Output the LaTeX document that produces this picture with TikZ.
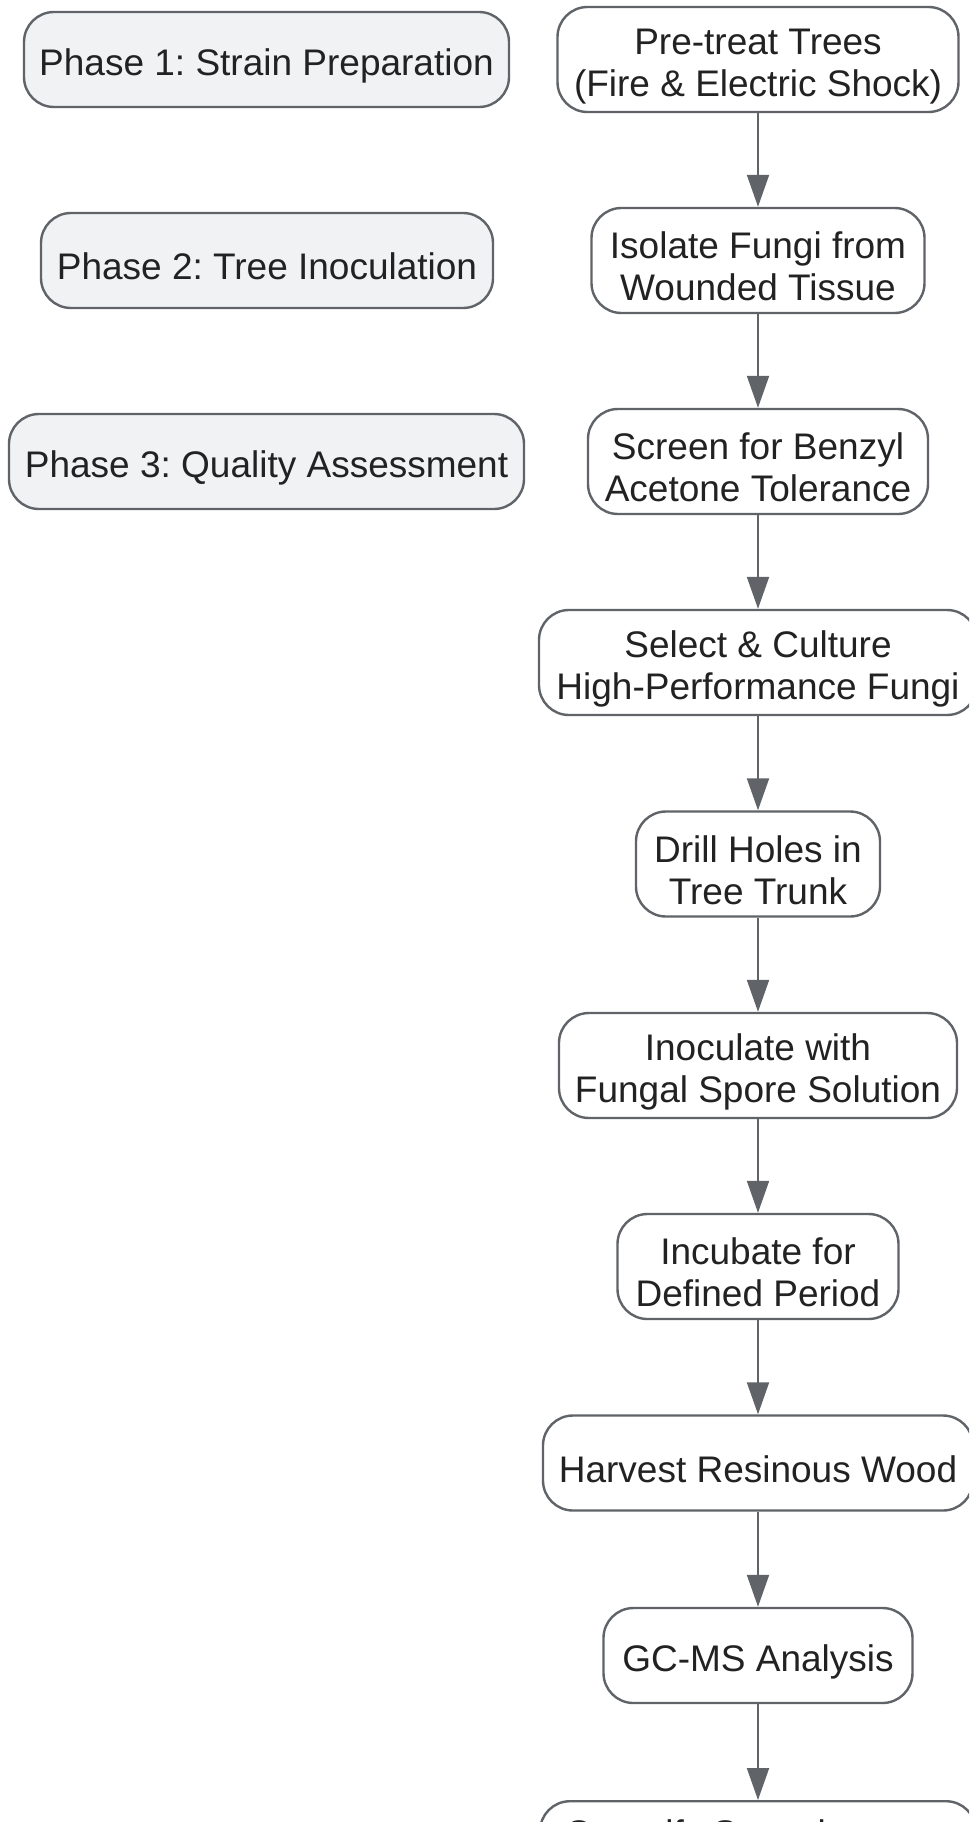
\documentclass[tikz,border=0pt]{standalone}
\usepackage{fontspec}
\setmainfont{Liberation Sans}
\usetikzlibrary{arrows.meta}
\definecolor{edgegray}{HTML}{606468}
\definecolor{phasefill}{HTML}{F1F2F4}
\definecolor{txt}{HTML}{222222}
\newcommand{\topstrut}{\rule{0pt}{39pt}}
\begin{document}
\begin{tikzpicture}[x=1pt,y=-1pt,
  base/.style={draw=edgegray, line width=2.4pt, rounded corners=30pt, align=center,
    text=txt, inner xsep=0pt, inner ysep=0pt,
    font=\fontsize{37}{42}\selectfont\frenchspacing},
  phasebox/.style={base, fill=phasefill, minimum height=95pt},
  stepone/.style={base, fill=white, minimum height=95pt},
  steptwo/.style={base, fill=white, minimum height=105pt},
  flow/.style={draw=edgegray, line width=2pt, -{Triangle[length=32pt,width=22pt]}}
]
\useasboundingbox (0,0) rectangle (969,1822);
\clip (0,0) rectangle (969,1822);
\fill[white] (0,0) rectangle (969,1822);

\node[phasebox, minimum width=485pt] (p1) at (266.5,59.5) {\topstrut Phase 1: Strain Preparation};
\node[phasebox, minimum width=452pt] (p2) at (267,260.5) {\topstrut Phase 2: Tree Inoculation};
\node[phasebox, minimum width=515pt] (p3) at (266.5,461.5) {\topstrut Phase 3: Quality Assessment};

\node[steptwo, minimum width=401pt] (s1) at (758,59.5) {\topstrut Pre-treat Trees\\(Fire \& Electric Shock)};
\node[steptwo, minimum width=333pt] (s2) at (758,260.5) {\topstrut Isolate Fungi from\\Wounded Tissue};
\node[steptwo, minimum width=340pt] (s3) at (758,461.5) {\topstrut Screen for Benzyl\\Acetone Tolerance};
\node[steptwo, minimum width=438pt] (s4) at (758,662.5) {\topstrut Select \& Culture\\High-Performance Fungi};
\node[steptwo, minimum width=244pt] (s5) at (758,864) {\topstrut Drill Holes in\\Tree Trunk};
\node[steptwo, minimum width=398pt] (s6) at (758,1065.5) {\topstrut Inoculate with\\Fungal Spore Solution};
\node[steptwo, minimum width=281pt] (s7) at (758,1266.5) {\topstrut Incubate for\\Defined Period};
\node[stepone, minimum width=430pt] (s8) at (758,1463) {\topstrut Harvest Resinous Wood};
\node[stepone, minimum width=309pt] (s9) at (758,1655.5) {\topstrut GC-MS Analysis};
\node[stepone, minimum width=436pt, minimum height=60pt, anchor=north] (s10) at (758,1800) {\topstrut Quantify Sesquiterpene};

\draw[flow] (s1) -- (s2);
\draw[flow] (s2) -- (s3);
\draw[flow] (s3) -- (s4);
\draw[flow] (s4) -- (s5);
\draw[flow] (s5) -- (s6);
\draw[flow] (s6) -- (s7);
\draw[flow] (s7) -- (s8);
\draw[flow] (s8) -- (s9);
\draw[flow] (s9) -- (s10);
\end{tikzpicture}
\end{document}
